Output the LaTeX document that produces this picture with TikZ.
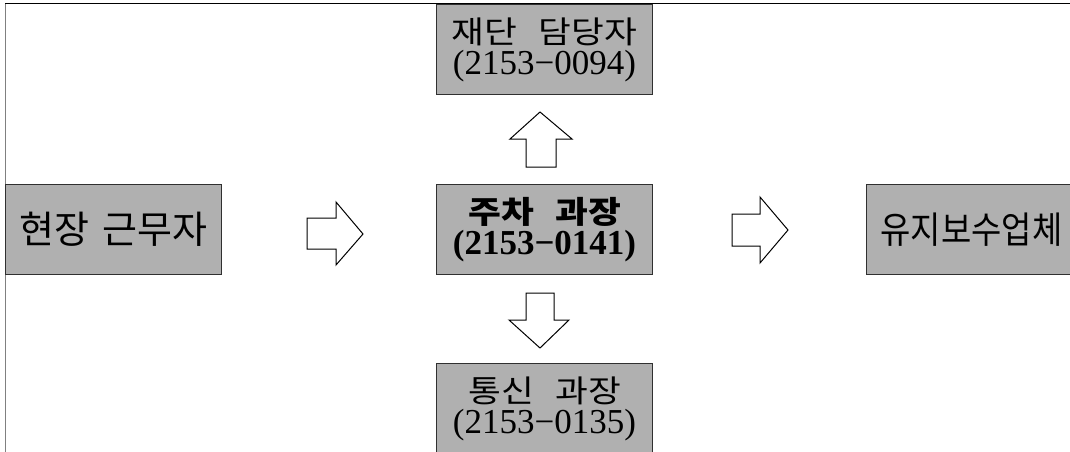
\documentclass[tikz,border=0pt]{standalone}
\usepackage{fontspec}
\usepackage{graphicx}
\newfontfamily\kr{Noto Sans CJK KR}
\newfontfamily\num{Liberation Serif}
\definecolor{boxgray}{HTML}{B0B0B0}
\definecolor{edgegray}{HTML}{303030}
\definecolor{framegray}{HTML}{808080}
\tikzset{
  graybox/.style={draw=edgegray, line width=1pt, fill=boxgray, minimum width=216pt, minimum height=90pt, inner sep=0pt, align=center, anchor=north west},
  blockarrow/.style={draw=black, line width=1pt, fill=white, line join=miter},
  krtext/.style={font=\kr\fontsize{31}{31}\selectfont}
}
\newcommand{\numline}[1]{{\num\fontsize{35}{31}\selectfont #1}}
\newcommand{\krwide}[1]{\scalebox{1.15}[1]{#1}}
\begin{document}
\begin{tikzpicture}[x=1pt,y=-1pt]
\useasboundingbox (0,0) rectangle (1070,452);
\clip (0,0) rectangle (1070,452);
% frame
\draw[line width=1pt, black] (5,4) -- (1070,4);
\draw[line width=1.5pt, framegray] (5.5,4) -- (5.5,452);
% boxes
\node[graybox, krtext] (field) at (5,184) {\fontsize{38}{31}\selectfont 현장\hspace{0.35em}근무자};
\node[graybox, krtext] (found) at (436,4) {\krwide{재단\hspace{0.6em}담당자}\\\numline{(2153−0094)}};
\node[graybox, krtext] (park) at (436,184) {\krwide{\bfseries 주차\hspace{0.6em}과장}\\\numline{\bfseries (2153−0141)}};
\node[graybox, krtext] (comm) at (436,363) {\krwide{통신\hspace{0.6em}과장}\\\numline{(2153−0135)}};
\node[graybox, krtext] (maint) at (866,184) {\hspace*{-6pt}\scalebox{0.89}[1]{\fontsize{37}{31}\selectfont 유지보수업체}};
% block arrows
\draw[blockarrow] (307,218) -- (336,218) -- (336,202) -- (363,234) -- (336,265) -- (336,249) -- (307,249) -- cycle;
\draw[blockarrow] (732,214) -- (760,214) -- (760,197) -- (788,230) -- (760,263) -- (760,246) -- (732,246) -- cycle;
\draw[blockarrow] (526,167) -- (526,139) -- (510,139) -- (540,112) -- (572,139) -- (556,139) -- (556,167) -- cycle;
\draw[blockarrow] (526,293) -- (554,293) -- (554,320) -- (569,320) -- (540,348) -- (509,320) -- (526,320) -- cycle;
\end{tikzpicture}
\end{document}
